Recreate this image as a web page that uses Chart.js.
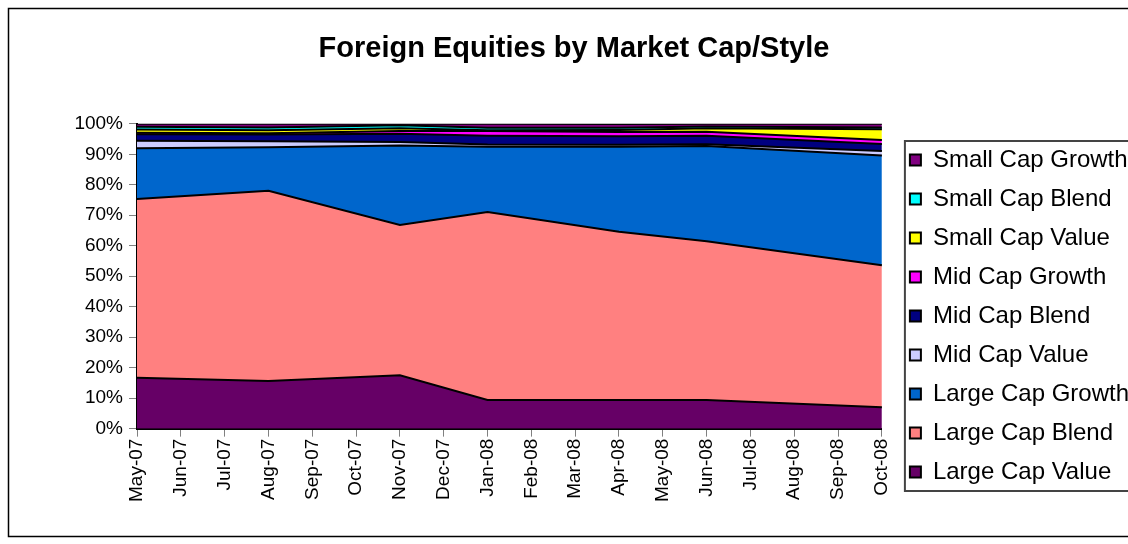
<!DOCTYPE html>
<html>
<head>
<meta charset="utf-8">
<script src="https://cdn.jsdelivr.net/npm/chart.js@4"></script>
<style>
  body { margin: 0; background: #fff; overflow: hidden; }
  #wrap { position: absolute; left: 0; top: 0; width: 1128px; height: 544px; }
</style>
</head>
<body>
<div id="wrap"><canvas id="myChart" width="1128" height="544"></canvas></div>
<script>
var months = ["May-07","Jun-07","Jul-07","Aug-07","Sep-07","Oct-07","Nov-07","Dec-07","Jan-08","Feb-08","Mar-08","Apr-08","May-08","Jun-08","Jul-08","Aug-08","Sep-08","Oct-08"];

// months with reported values (the picture draws straight lines between them)
var dataMonths = ["May-07","Aug-07","Nov-07","Jan-08","Apr-08","Jun-08","Oct-08"];

var largeCapValue  = [16.7, 15.6, 17.5,  9.4,  9.4,  9.4,  7.0];
var largeCapBlend  = [58.6, 62.4, 49.3, 61.7, 55.2, 52.1, 46.6];
var largeCapGrowth = [16.7, 14.3, 26.1, 21.4, 27.9, 31.2, 36.0];
var midCapValue    = [ 2.4,  2.0,  1.1,  0.7,  0.6,  0.6,  1.5];
var midCapBlend    = [ 2.2,  2.2,  2.7,  2.9,  2.8,  2.8,  2.3];
var midCapGrowth   = [ 0.5,  0.4,  0.9,  1.5,  1.4,  1.3,  1.3];
var smallCapValue  = [ 1.0,  1.0,  0.9,  0.3,  0.7,  1.1,  3.5];
var smallCapBlend  = [ 0.9,  0.9,  1.0,  0.8,  0.7,  0.6,  0.6];
var smallCapGrowth = [ 1.0,  1.2,  0.5,  1.3,  1.2,  0.9,  1.2];

var yTicks = [0,10,20,30,40,50,60,70,80,90,100];

function pts(values) {
    return values.map(function (v, i) { return {x: dataMonths[i], y: v}; });
}

function series(label, values, color, first) {
    return {
        label: label,
        data: pts(values),
        backgroundColor: color,
        borderColor: "#000000",
        borderWidth: 2,
        pointRadius: 0,
        tension: 0,
        fill: first ? "origin" : "-1"
    };
}

// legend sits a bit right of the plot and lower down, as in the original
var moveLegend = {
    id: "moveLegend",
    afterLayout: function (chart) {
        var lg = chart.legend;
        lg.left += 13; lg.right += 13;
        lg.top += 55; lg.bottom += 55;
    }
};

// frame round the whole chart and the box round the legend
var frames = {
    id: "frames",
    afterDraw: function (chart) {
        var ctx = chart.ctx;
        ctx.save();
        ctx.strokeStyle = "#000";
        ctx.lineWidth = 1.5;
        ctx.strokeRect(8.5, 8.5, 1130, 528);
        var boxes = chart.legend.legendHitBoxes;
        if (boxes && boxes.length) {
            var top = boxes[0].top, bottom = boxes[0].top + boxes[0].height;
            boxes.forEach(function (b) {
                top = Math.min(top, b.top);
                bottom = Math.max(bottom, b.top + b.height);
            });
            ctx.strokeStyle = "#444";
            ctx.lineWidth = 2;
            ctx.strokeRect(boxes[0].left - 5, top - 7, 240, bottom - top + 14);
        }
        ctx.restore();
    }
};

Chart.defaults.font.family = "Arial, 'Liberation Sans', sans-serif";
Chart.defaults.color = "#000";

new Chart("myChart", {
    type: "line",
    data: {
        labels: months,
        datasets: [
            series("Large Cap Value", largeCapValue, "#660066", true),
            series("Large Cap Blend", largeCapBlend, "#FF8080"),
            series("Large Cap Growth", largeCapGrowth, "#0066CC"),
            series("Mid Cap Value", midCapValue, "#CCCCFF"),
            series("Mid Cap Blend", midCapBlend, "#000080"),
            series("Mid Cap Growth", midCapGrowth, "#FF00FF"),
            series("Small Cap Value", smallCapValue, "#FFFF00"),
            series("Small Cap Blend", smallCapBlend, "#00FFFF"),
            series("Small Cap Growth", smallCapGrowth, "#800080")
        ]
    },
    plugins: [moveLegend, frames],
    options: {
        responsive: false,
        animation: false,
        layout: {padding: {left: 22, right: 2, top: 18, bottom: 40}},
        plugins: {
            title: {
                display: true,
                text: "Foreign Equities by Market Cap/Style",
                font: {size: 29, weight: "bold"},
                padding: {top: 14, bottom: 57}
            },
            legend: {
                position: "right",
                reverse: true,
                labels: {
                    boxWidth: 11,
                    boxHeight: 11,
                    padding: 15,
                    font: {size: 24},
                    useBorderRadius: false
                }
            },
            tooltip: {enabled: false}
        },
        scales: {
            x: {
                offset: false,
                grid: {display: true, drawOnChartArea: false, tickLength: 8, color: "#808080"},
                border: {color: "#000", width: 2},
                ticks: {minRotation: 90, maxRotation: 90, autoSkip: false, font: {size: 19}, padding: 2}
            },
            y: {
                stacked: true,
                min: 0,
                max: 100,
                afterFit: function (scale) { scale.width = 115; },
                afterBuildTicks: function (axis) {
                    axis.ticks = yTicks.map(function (v) { return {value: v}; });
                },
                grid: {display: true, drawOnChartArea: false, tickLength: 8, color: "#808080"},
                border: {color: "#000", width: 2},
                ticks: {font: {size: 19}, padding: 6, callback: function (v) { return v + "%"; }}
            }
        }
    }
});
</script>
</body>
</html>
